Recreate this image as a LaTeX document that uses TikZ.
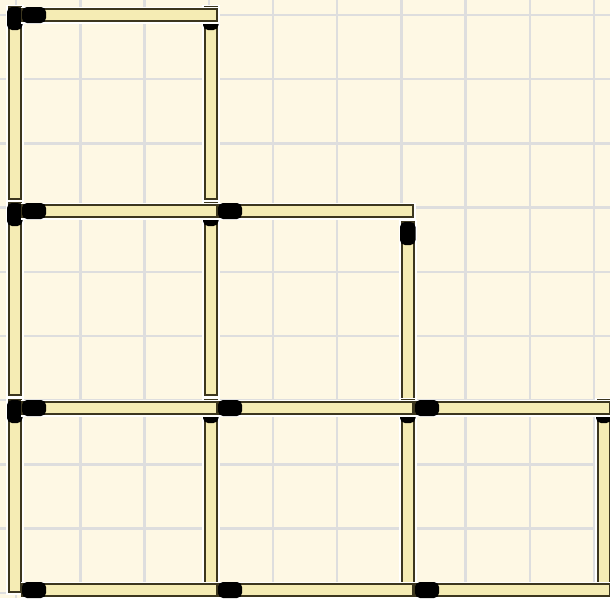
\documentclass[tikz,border=0pt]{standalone}

\definecolor{paper}{RGB}{254,248,228}
\definecolor{gridgray}{RGB}{222,222,222}
\definecolor{matchwood}{RGB}{245,236,180}
\definecolor{matchedge}{RGB}{60,54,30}

\begin{document}
\begin{tikzpicture}[x=1pt,y=-1pt,
    gridline/.style={draw=gridgray, line width=2.4pt},
    halo/.style={fill=white},
    stick/.style={fill=matchwood, draw=matchedge, line width=1.8pt},
    head/.style={fill=black, rounded corners=5pt}
]

% paper and grid
\fill[paper] (0,0) rectangle (610,598);
\useasboundingbox (0,0) rectangle (610,598);
\foreach \k in {0,...,9} {
  \draw[gridline] ({16.2+64.2*\k},0) -- ++(0,598);
  \draw[gridline] (0,{15+64.2*\k}) -- ++(610,0);
}

% vertical matches, head on top (last one sits lower)
\foreach \x/\y/\s in {15/15/0, 211/15/0, 15/211/0, 211/211/0, 408/211/19,
                      15/408/0, 211/408/0, 408/408/0, 604/408/0} {
  \fill[halo] (\x-9,\y-10.5+\s) rectangle (\x+8.5,\y+186.5+\s);
  \filldraw[stick] (\x-6,\y-8+\s) rectangle (\x+6,\y+184+\s);
  \fill[head] (\x-8,\y-8+\s) rectangle (\x+7.5,\y+15+\s);
}

% horizontal matches, head on the left
\foreach \x/\y in {15/15, 15/211, 211/211, 15/408, 211/408, 408/408,
                   15/590, 211/590, 408/590} {
  \fill[halo] (\x+5.5,\y-8.5) rectangle (\x+204.5,\y+8.5);
  \filldraw[stick] (\x+7,\y-6) rectangle (\x+202,\y+6);
  \fill[head] (\x+7,\y-8) rectangle (\x+31,\y+8);
}
\end{tikzpicture}
\end{document}
